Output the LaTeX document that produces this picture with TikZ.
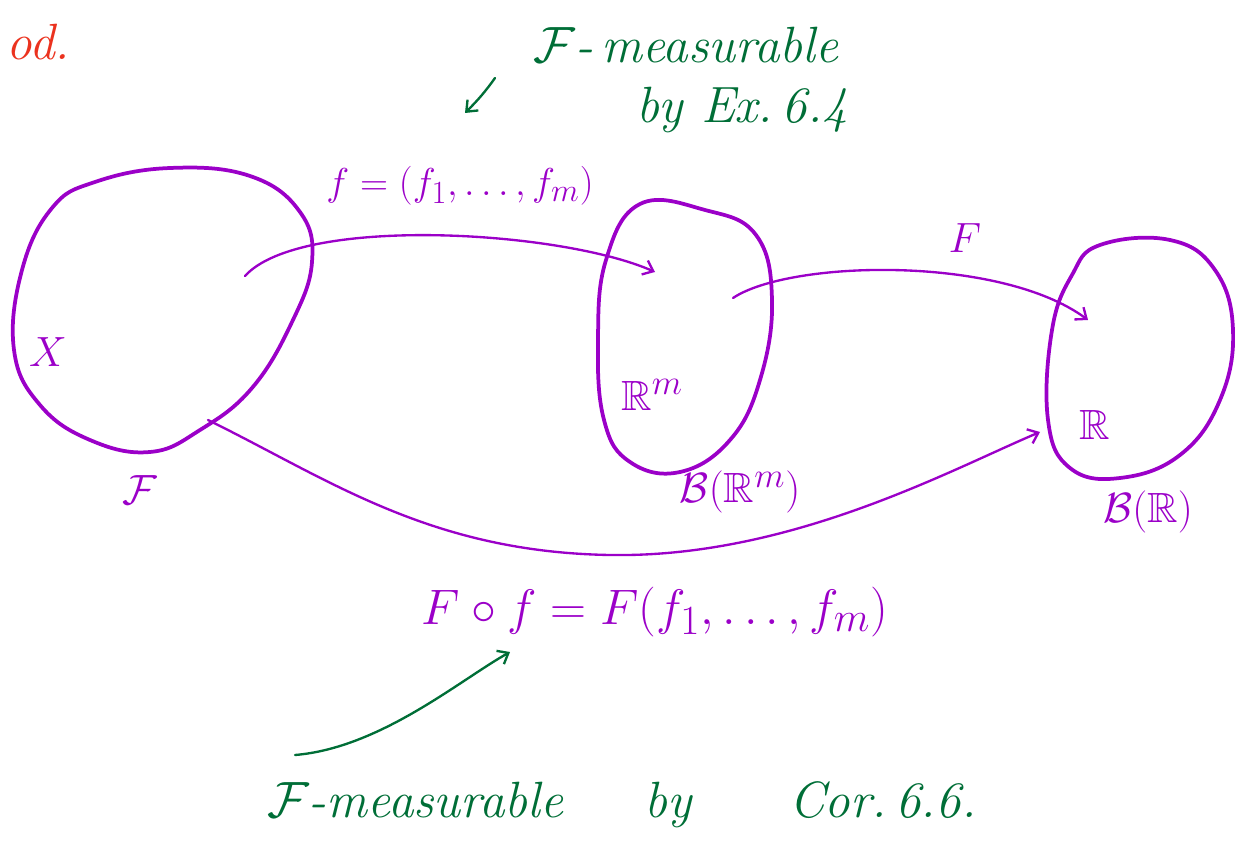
\documentclass[tikz,border=0pt]{standalone}
\usepackage{amsmath}
\usepackage{amssymb}
\usetikzlibrary{arrows.meta}
\begin{document}
\begin{tikzpicture}[x=0.03cm,y=-0.03cm,>={Straight Barb[length=8pt,width=13pt]}]
            \definecolor{pmap}{RGB}{155,0,200}
            \definecolor{gnote}{RGB}{0,110,55}
            \definecolor{rhead}{RGB}{235,50,30}
            \tikzset{
                blob/.style={pmap,line width=3.2pt,line cap=round},
                maparrow/.style={pmap,line width=2pt,line cap=round,->},
                notearrow/.style={gnote,line width=2pt,line cap=round,->},
                plab/.style={pmap,inner sep=0pt,font=\Huge,scale=1.45},
                glab/.style={gnote,inner sep=0pt,font=\Huge\itshape,scale=1.75}
            }
            \useasboundingbox (0,0) rectangle (1235,853);
            % the three sets
            \draw[blob] plot[smooth cycle,tension=0.7] coordinates {(95,182) (170,168) (250,176) (300,212) (312,262) (292,322) (252,388) (200,430) (150,452) (90,440) (40,405) (14,350) (22,270) (52,208)};
            \draw[blob] plot[smooth cycle,tension=0.7] coordinates {(640,204) (705,210) (756,235) (772,300) (760,380) (730,440) (680,472) (630,462) (604,420) (598,340) (606,260)};
            \draw[blob] plot[smooth cycle,tension=0.7] coordinates {(1100,245) (1170,240) (1215,270) (1233,330) (1220,400) (1180,455) (1120,478) (1070,468) (1048,420) (1052,330) (1072,275)};
            % end points of the maps
            \coordinate (fsrc) at (245,276);
            \coordinate (fdst) at (655,272);
            \coordinate (Fsrc) at (733,298);
            \coordinate (Fdst) at (1088,320);
            \coordinate (Fofsrc) at (208,420);
            \coordinate (Fofdst) at (1040,432);
            % labels
            \node[rhead,inner sep=0pt,font=\Huge\itshape,scale=1.75] (proofend) at (38,42) {od.};
            \node[plab] (X) at (48,352) {$X$};
            \node[plab] (sigF) at (140,490) {$\mathcal{F}$};
            \node[plab] (Rm) at (652,395) {$\mathbb{R}^m$};
            \node[plab] (BRm) at (740,492) {$\mathcal{B}(\mathbb{R}^m)$};
            \node[plab] (R) at (1095,425) {$\mathbb{R}$};
            \node[plab] (BR) at (1148,512) {$\mathcal{B}(\mathbb{R})$};
            \node[plab,scale=0.92] (flab) at (460,186) {$f=(f_1,\dots,f_m)$};
            \node[plab] (Flab) at (965,238) {$F$};
            \node[plab,scale=1.18] (Foflab) at (655,612) {$F\circ f=F(f_1,\dots,f_m)$};
            \node[glab] (meas1) at (686,45) {$\mathcal{F}$-\,measurable};
            \node[glab] (ex64) at (742,110) {by Ex.\,6.4};
            \node[glab] (meas2) at (622,805) {$\mathcal{F}$-measurable\hspace{1.6em}by\hspace{1.9em}Cor.\,6.6.};
            % the maps
            \draw[maparrow] (fsrc) .. controls (300,215) and (560,230) .. (fdst);
            \draw[maparrow] (Fsrc) .. controls (790,260) and (1000,255) .. (Fdst);
            \draw[maparrow] (Fofsrc) .. controls (330,480) and (430,552) .. (610,555) .. controls (790,558) and (950,470) .. (Fofdst);
            % green pointers
            \coordinate (ptr1a) at (495,78);
            \coordinate (ptr1b) at (465,113);
            \coordinate (ptr2a) at (295,755);
            \coordinate (ptr2b) at (510,652);
            \draw[notearrow] (ptr1a) .. controls (485,92) and (478,100) .. (ptr1b);
            \draw[notearrow] (ptr2a) .. controls (380,748) and (460,680) .. (ptr2b);
        \end{tikzpicture}
\end{document}
